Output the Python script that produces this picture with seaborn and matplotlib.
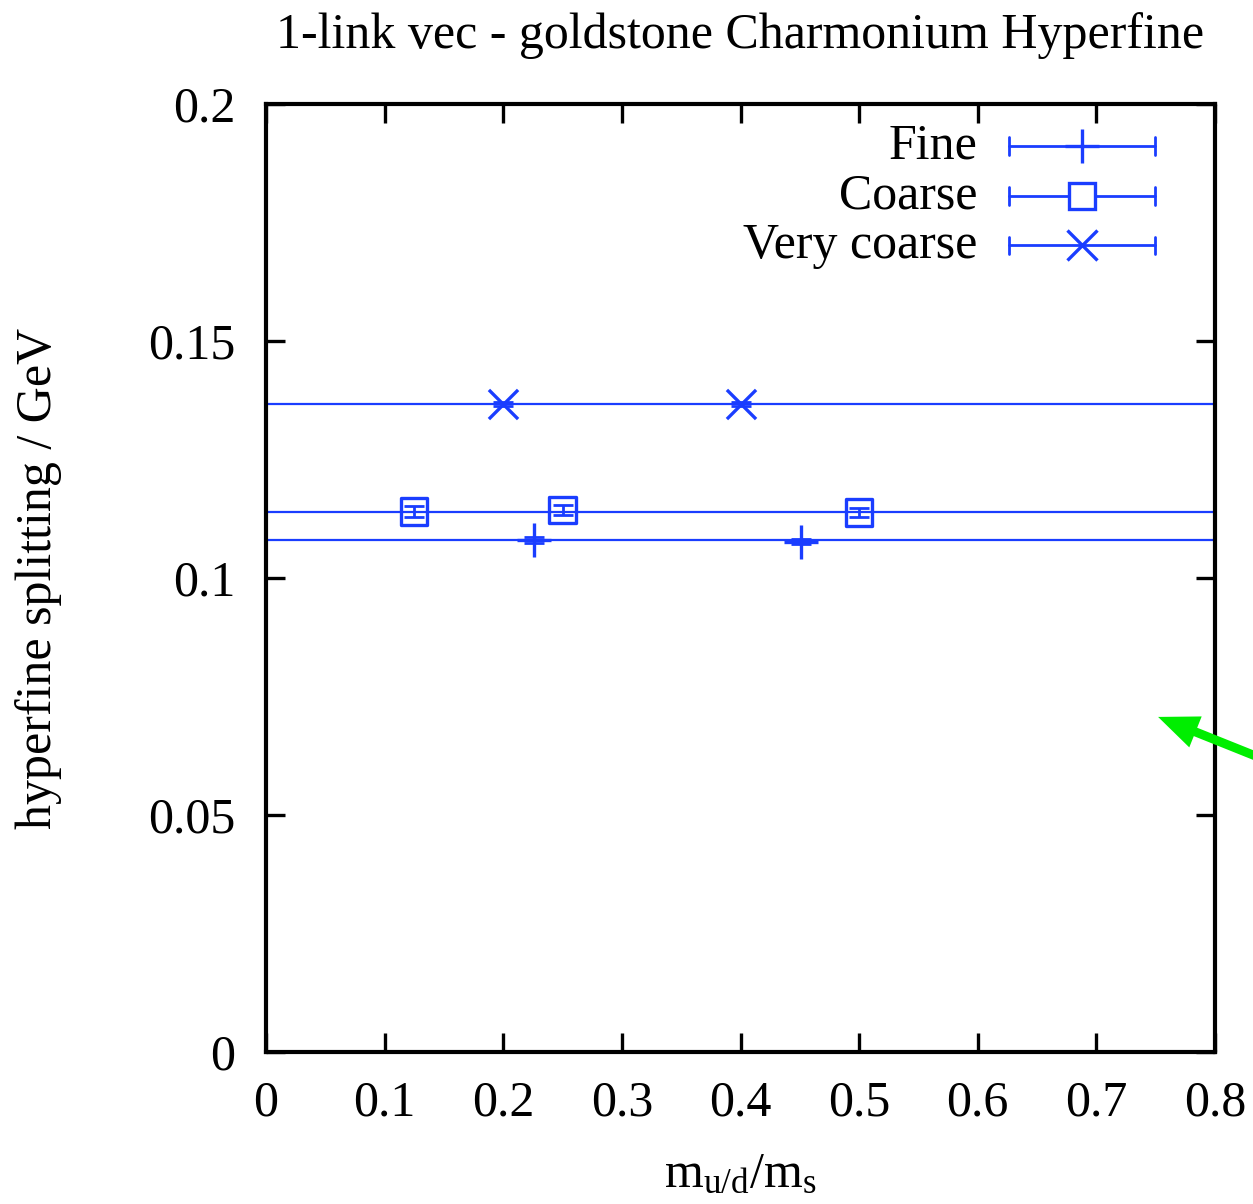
import matplotlib
matplotlib.use("Agg")
import matplotlib.pyplot as plt
import seaborn as sns
import numpy as np

# ---- data ----
fine_x = [0.226, 0.451]
fine_y = [0.1080, 0.1077]
fine_err = [0.0007, 0.0006]
fine_fit = 0.1080

coarse_x = [0.125, 0.25, 0.5]
coarse_y = [0.1140, 0.1143, 0.1138]
coarse_err = [0.0011, 0.0011, 0.0010]
coarse_fit = 0.1139

vc_x = [0.2, 0.4]
vc_y = [0.1367, 0.1367]
vc_err = [0.0005, 0.0005]
vc_fit = 0.1367

labels = ["Fine", "Coarse", "Very coarse"]
xticks = [0, 0.1, 0.2, 0.3, 0.4, 0.5, 0.6, 0.7, 0.8]
xticklabels = ["0", "0.1", "0.2", "0.3", "0.4", "0.5", "0.6", "0.7", "0.8"]
yticks = [0, 0.05, 0.1, 0.15, 0.2]
yticklabels = ["0", "0.05", "0.1", "0.15", "0.2"]

sns.set_theme(style="ticks")
plt.rcParams['font.family'] = ['Liberation Serif', 'DejaVu Serif']
plt.rcParams['mathtext.fontset'] = 'custom'
plt.rcParams['mathtext.rm'] = 'Liberation Serif'
plt.rcParams['mathtext.it'] = 'Liberation Serif:italic'

FS = 36
blue = '#1a3dff'

fig = plt.figure(figsize=(12.53, 12.04), dpi=100)
ax = fig.add_axes([0.2123, 0.1262, 0.9697 - 0.2123, 0.9136 - 0.1262])

for v in [fine_fit, coarse_fit, vc_fit]:
    ax.axhline(v, color=blue, lw=1.6, zorder=2)

series = [
    (fine_x, fine_y, fine_err, '+', 24),
    (coarse_x, coarse_y, coarse_err, 's', 19),
    (vc_x, vc_y, vc_err, 'x', 21),
]
for xs, ys, es, m, ms in series:
    ax.errorbar(xs, ys, yerr=es, fmt='none', ecolor=blue, elinewidth=2.0,
                capsize=7, capthick=2.0, zorder=3)
    if m == 's':
        sns.scatterplot(x=xs, y=ys, ax=ax, marker='s', s=ms**2,
                        facecolor='none', edgecolor=blue, linewidth=2.4, zorder=4)
    else:
        sns.scatterplot(x=xs, y=ys, ax=ax, marker=m, s=ms**2,
                        color=blue, linewidth=2.4, zorder=4)

# manual legend (gnuplot style)
leg_rows = [0.9557, 0.903, 0.851]
leg_markers = [('+', 24, True), ('s', 19, False), ('x', 21, True)]
for lab, yr, (m, ms, filled) in zip(labels, leg_rows, leg_markers):
    ax.plot([0.783, 0.937], [yr, yr], color=blue, lw=2.0, transform=ax.transAxes, zorder=5)
    for xe in [0.783, 0.937]:
        ax.plot([xe, xe], [yr - 0.009, yr + 0.009], color=blue, lw=2.0,
                transform=ax.transAxes, zorder=5)
    if filled:
        ax.plot([0.860], [yr], marker=m, ms=ms, mew=2.4, color=blue,
                transform=ax.transAxes, zorder=6)
    else:
        ax.plot([0.860], [yr], marker=m, ms=ms, mew=2.4, mfc='white', mec=blue,
                transform=ax.transAxes, zorder=6)
    ax.text(0.750, yr, lab, transform=ax.transAxes, ha='right', va='center',
            fontsize=FS, color='black')

ax.set_xlim(0, 0.8)
ax.set_ylim(0, 0.2)
ax.set_xticks(xticks)
ax.set_xticklabels(xticklabels)
ax.set_yticks(yticks)
ax.set_yticklabels(yticklabels)
ax.tick_params(axis='both', which='major', direction='in', length=14, width=2.4,
               top=True, right=True, labelsize=FS, color='black', labelcolor='black')
ax.tick_params(axis='x', pad=20)
ax.tick_params(axis='y', pad=22)
for s in ax.spines.values():
    s.set_linewidth(3.0)
    s.set_color('black')

ax.set_title("1-link vec - goldstone Charmonium Hyperfine", fontsize=FS, pad=40, color='black')
ax.set_xlabel(r"$\mathrm{m_{u/d}/m_s}$", fontsize=FS, color='black')
ax.xaxis.set_label_coords(0.5, -0.105)
ax.set_ylabel("hyperfine splitting / GeV", fontsize=FS, color='black')
ax.yaxis.set_label_coords(-0.215, 0.5)

# green arrow
ax.annotate("", xy=(0.752, 0.0707), xycoords='data',
            xytext=(1.01, 1 - 760 / 1204), textcoords='figure fraction',
            arrowprops=dict(width=6.5, headwidth=24, headlength=29,
                            facecolor='#00ee00', edgecolor='#00ee00', lw=0,
                            shrink=0),
            annotation_clip=False, zorder=7)

fig.savefig("out.png", dpi=100)
